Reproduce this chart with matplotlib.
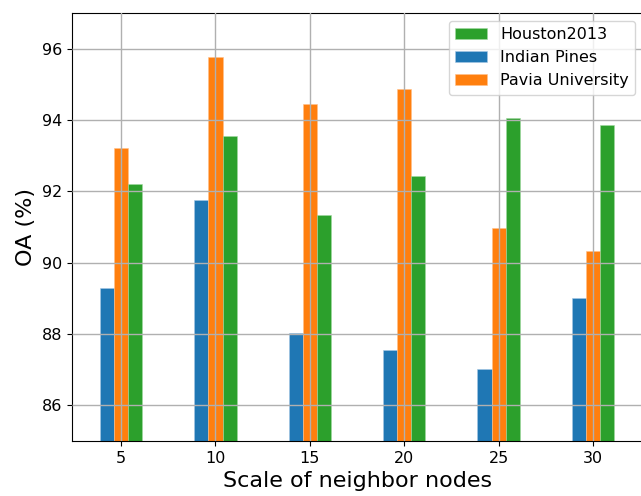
import matplotlib
matplotlib.use("Agg")
import matplotlib.pyplot as plt
import numpy as np

scales = ["5", "10", "15", "20", "25", "30"]
indian_pines = [89.30, 91.76, 88.04, 87.56, 87.03, 89.01]
pavia_university = [93.21, 95.78, 94.44, 94.88, 90.96, 90.32]
houston2013 = [92.21, 93.56, 91.34, 92.44, 94.06, 93.87]

fig = plt.figure(figsize=(6.41, 4.96), dpi=100)
W, H = 641, 496
ax = fig.add_axes([72 / W, (H - 441) / H, (643 - 72) / W, (441 - 13) / H])

x = np.arange(len(scales))
w = 0.15
b1 = ax.bar(x - w, indian_pines, w, color="#1f77b4", edgecolor="#a6c8e4", linewidth=0.4, label="Indian Pines")
b2 = ax.bar(x, pavia_university, w, color="#ff7f0e", edgecolor="#ffc08a", linewidth=0.4, label="Pavia University")
b3 = ax.bar(x + w, houston2013, w, color="#2ca02c", edgecolor="#a0d8a0", linewidth=0.4, label="Houston2013")

ax.set_xticks(x)
ax.set_xticklabels(scales)
ax.set_yticks([86, 88, 90, 92, 94, 96])
ax.tick_params(axis="both", labelsize=11.5)
ax.set_ylim(85, 97)
ax.set_xlim(-0.52, 5.53)
ax.set_axisbelow(False)
ax.grid(True, color="#b0b0b0", linewidth=1)
ax.set_xlabel("Scale of neighbor nodes", fontsize=16)
ax.set_ylabel("OA (%)", fontsize=16)
ax.legend([b3, b1, b2], ["Houston2013", "Indian Pines", "Pavia University"], loc="upper right", fontsize=11.5)

fig.savefig("out.png", dpi=100)
